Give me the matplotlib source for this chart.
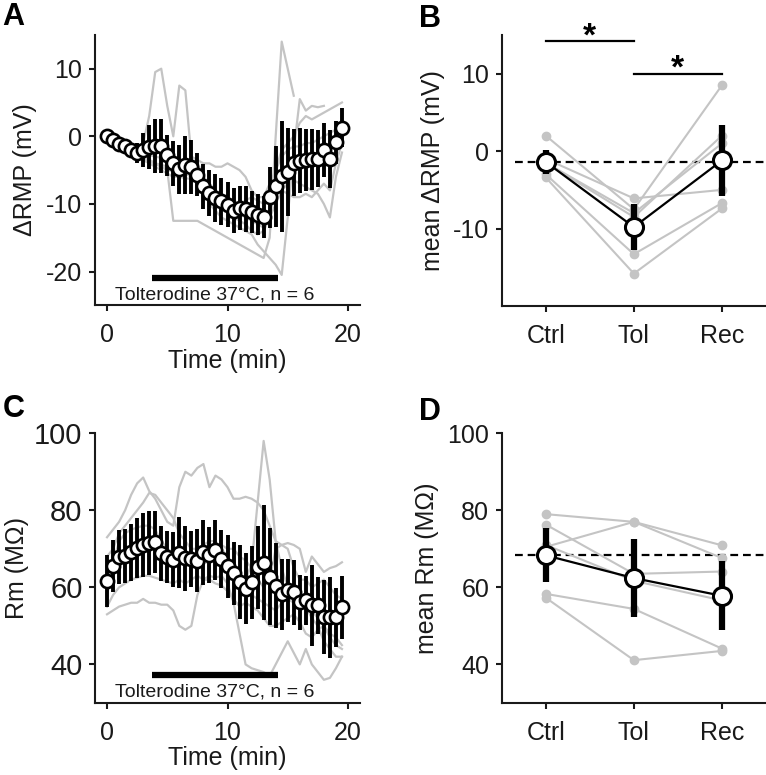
import numpy as np
import matplotlib
matplotlib.use('Agg')
from matplotlib import pyplot as plt

plt.rcParams['font.family'] = ['Liberation Sans', 'DejaVu Sans']
plt.rcParams['axes.unicode_minus'] = False

nan = np.nan

# time points (min)
time = [0, 0.5, 1, 1.5, 2, 2.5, 3, 3.5, 4, 4.5, 5, 5.5, 6, 6.5, 7, 7.5, 8, 8.5, 9, 9.5,
        10, 10.5, 11, 11.5, 12, 12.5, 13, 13.5, 14, 14.5, 15, 15.5, 16, 16.5, 17, 17.5, 18, 18.5, 19, 19.5]

# panel A: delta RMP (mV)
rmp_mean = [0, -0.6, -1.1, -1.5, -2.0, -2.5, -2.0, -1.6, -1.4, -1.4,
            -2.8, -4.0, -4.9, -4.2, -4.5, -5.7, -7.4, -8.4, -9.1, -9.6,
            -10.1, -11.0, -10.6, -10.8, -11.2, -11.6, -12.0, -9.0, -7.4, -5.9,
            -5.3, -3.9, -3.6, -3.5, -3.4, -3.3, -2.0, -3.4, -0.9, 1.3]
rmp_sd = [0.2, 0.4, 0.5, 0.7, 0.9, 1.5, 2.5, 3.2, 4.0, 4.0,
          3.0, 3.3, 3.6, 4.3, 4.0, 3.2, 3.3, 3.4, 3.5, 3.5,
          3.3, 3.3, 3.2, 3.4, 3.1, 3.0, 3.1, 4.5, 6.0, 8.2,
          6.5, 5.0, 4.8, 4.6, 4.5, 4.2, 4.0, 4.3, 3.2, 2.9]
rmp_cell1 = [0, -0.3, -0.8, -1.2, -1.5, -2, -1, 3, 9.5, 10,
             4.5, 0, 7.5, 6.8, -3, -3.5, -4, -4, -4.5, -4.5,
             -4, -4.5, -5, -6, -8, -9, -9, -7, -5, -2,
             -1, 0, 2, 3, 2.5, 3, 3.5, 4, 4.5, 5]
rmp_cell2 = [0, -0.5, -1, -1.5, -2, -2.5, -3, -3.5, -4, -4.5,
             -5, -12.5, -12.5, -12.5, -12.5, -12.5, -13, -13.5, -14, -14.5,
             -15, -15.5, -16, -16.5, -17, -17.5, -18, -15, 0, 14,
             10, 6, nan, nan, nan, nan, nan, nan, nan, nan]
rmp_cell3 = [0, -0.8, -1.5, -2, -2.5, -3, -3.5, -4, -4.5, -5,
             -5.5, -6, -6, -6.2, -6.3, -6.5, -8, -10, -11, -12,
             -12.5, -13, -13.5, -14, -14.5, -16, -17, -18, -19, -20.5,
             -12, -2, 5.5, 3.8, 4.5, 4.3, 4.5, nan, nan, nan]
rmp_cell4 = [0, -0.5, -1.2, -1.8, -2.3, -2.8, -3.3, -3.8, -4, -4.2,
             -4.5, -5, -5.5, -4, -3.5, -3.8, -6, -7.5, -9, -10,
             -11, -12, -12.5, -13, -14, -14.5, -14, -12, -10, -8,
             -7, -6.5, -7, -7.5, -8, -8.5, -10, -12, -6, -2.4]
rmp_cell5 = [0, -0.6, -1, -1.4, -1.8, -2.2, -2.5, -2.8, -3, -3.2,
             -3.3, -3.5, -3.6, -3.8, -4, -4.5, -6, -7, -8, -8.5,
             -9, -9.5, -10, -9.5, -9, -9.5, -10, -8, -5, -3,
             -2, -1.5, -1.5, -1, -1, -0.5, 0, 0.5, 1, 0.5]
rmp_cell6 = [0, -0.7, -1.3, -1.6, -2, -2.5, -3, -3.5, -4, -4.5,
             -5, -5.2, -5.3, -5.5, -6, -6.3, -6.5, -7.5, -8.5, -9.5,
             -10.5, -11, -11.5, -12, -12.5, -13, -13.5, -11, -9, -8,
             -8.5, -9, -9, -8.5, -9, -8, -7, -8, -4, -1]

# panel C: Rm (MOhm)
rm_mean = [61.6, 65.5, 67.9, 68.2, 69.1, 70.2, 71.0, 71.4, 71.7, 68.8,
           67.8, 67.2, 69.0, 67.5, 67.3, 66.9, 69.1, 68.4, 69.7, 67.3,
           65.5, 63.6, 61.4, 59.6, 61.3, 65.2, 66.4, 62.8, 60.4, 58.2,
           59.2, 58.7, 56.1, 56.6, 55.4, 55.3, 52.3, 52.2, 52.2, 54.8]
rm_sd = [6.7, 6.8, 7.0, 7.0, 7.4, 7.7, 8.4, 8.3, 8.0, 7.1,
         6.8, 7.1, 9.3, 8.5, 7.3, 8.2, 8.5, 7.2, 7.8, 7.5,
         8.2, 8.2, 9.7, 9.2, 9.5, 10.7, 15.0, 12.7, 11.0, 9.2,
         8.2, 8.4, 7.1, 6.4, 10.5, 7.5, 9.7, 10.5, 7.7, 8.2]
rm_cell1 = [73, 75, 77, 80, 84, 87, 88.5, 85, 83, 80,
            77, 76, 86, 90, 89, 91, 92, 86, 89, 88,
            86, 83, 83, 83.5, 83, 82, 80, 76, 72, 71,
            71.5, 71, 70, 64, 68, 66, 64, 65, 65.5, 66.5]
rm_cell2 = [68, 70, 74, 76, 78, 80, 82, 84.5, 84, 82,
            80, 78, 74, 72, 70, 70, 71, 72, 72, 70,
            68, 65, 62, 62, 66, 82, 98, 88, 72, 65,
            60, 58, 56, 55, 52, 50, 46, 44, 42, 42]
rm_cell3 = [53, 54, 55, 55.5, 56, 56, 57, 56, 56, 55.5,
            55.5, 54, 50, 49, 50, 58, 62, 63, 62.5, 63,
            61, 56, 48, 40, 39, 38.5, 38, 37, 40, 43,
            46, 43, 40, 44, 40, 38, 36, 36.5, 39, 42]
rm_cell4 = [55, 58, 60, 61, 62, 62.5, 63, 63, 62.5, 62,
            61.5, 61, 62, 61, 62, 63, 62, 62, 61, 60.5,
            59, 57, 55, 56, 55, 54, 52, 50, 50, 51,
            52, 53, 51, 48, 47, 49, 50, 47, 45, 44]
rm_cell5 = [58, 66, 72, 74, 75, 75.5, 76, 76, 75, 72,
            70, 69, 70, 69, 68, 67, 68, 69, 70, 71,
            70, 70, 68, 67, 65, 62, 60, 62, 70, 71,
            70, 65, 62, 62, 60, 61, 62, 60, 58, 57]
rm_cell6 = [62, 65, 67, 68, 69, 70, 71, 72, 71, 70,
            68, 67, 66, 67, 66, 65, 66, 67, 68, 68,
            66, 64, 62, 60, 58, 57, 56, 55, 54, 56,
            57, 56, 54, 55, 54, 52, 50, 48, 47, 45]

# panels B and D: per-condition summaries
conditions = ['Ctrl', 'Tol', 'Rec']
b_cells = [[2.0, -7.5, 8.5],
           [-1.0, -6.1, -5.0],
           [-1.5, -8.5, 2.0],
           [-3.0, -13.3, -6.7],
           [-3.4, -15.8, -7.4],
           [-1.5, -8.0, 1.0]]
b_mean = [-1.4, -9.8, -1.2]
b_sd = [1.6, 3.0, 4.6]
d_cells = [[79.0, 77.0, 70.9],
           [76.3, 63.5, 64.1],
           [70.5, 77.0, 67.6],
           [71.0, 61.7, 56.6],
           [58.3, 54.4, 44.1],
           [57.3, 41.1, 43.5]]
d_mean = [68.3, 62.4, 57.8]
d_sd = [7.0, 10.1, 9.0]

drug_on, drug_off = 3.75, 14.2
drug_label = 'Tolterodine 37°C, n = 6'

grey = '#c4c4c4'
txt = '#1a1a1a'

fig = plt.figure(figsize=(7.66, 7.75), dpi=100)
axA = fig.add_axes([0.124, 0.606, 0.346, 0.349])
axB = fig.add_axes([0.655, 0.605, 0.345, 0.350])
axC = fig.add_axes([0.124, 0.093, 0.346, 0.348])
axD = fig.add_axes([0.655, 0.093, 0.345, 0.348])


def style(ax):
    for s in ['top', 'right']:
        ax.spines[s].set_visible(False)
    for s in ['left', 'bottom']:
        ax.spines[s].set_linewidth(1.5)
        ax.spines[s].set_color(txt)
    ax.tick_params(labelsize=18, length=4, width=1.5, colors=txt)
    ax.tick_params(axis='x', pad=9)
    ax.tick_params(axis='y', pad=5)


def time_panel(ax, cells, mean, sd, bar_y, label_y):
    for c in cells:
        ax.plot(time, c, color=grey, lw=1.6, zorder=1)
    ax.errorbar(time, mean, yerr=sd, fmt='none', ecolor='black', elinewidth=2.8, capsize=0, zorder=2)
    ax.plot(time, mean, 'o', ms=9.5, mfc='white', mec='black', mew=1.9, zorder=3)
    ax.plot([drug_on, drug_off], [bar_y, bar_y], color='black', lw=4.5, solid_capstyle='butt', zorder=2)
    ax.text((drug_on + drug_off) / 2, label_y, drug_label, ha='center', va='center', fontsize=14, color=txt)
    ax.set_xlim(-1, 21)
    ax.set_xticks([0, 10, 20])
    ax.set_xlabel('Time (min)', fontsize=18, color=txt, labelpad=1)
    style(ax)


def summary_panel(ax, cells, mean, sd):
    x = [1, 2, 3]
    ax.axhline(mean[0], xmin=0.05, color='black', lw=1.6, dashes=(3.5, 2.2), zorder=0)
    for c in cells:
        ax.plot(x, c, color=grey, lw=1.5, marker='o', ms=6, zorder=1)
    ax.plot(x, mean, color='black', lw=1.6, zorder=2)
    ax.errorbar(x, mean, yerr=sd, fmt='none', ecolor='black', elinewidth=4.5, capsize=0, zorder=3)
    ax.plot(x, mean, 'o', ms=13, mfc='white', mec='black', mew=2.2, zorder=4)
    ax.set_xlim(0.5, 3.5)
    ax.set_xticks(x)
    ax.set_xticklabels(conditions)
    style(ax)


time_panel(axA, [rmp_cell1, rmp_cell2, rmp_cell3, rmp_cell4, rmp_cell5, rmp_cell6],
           rmp_mean, rmp_sd, -20.9, -23.4)
axA.set_ylim(-25, 15)
axA.set_yticks([-20, -10, 0, 10])
axA.set_ylabel('ΔRMP (mV)', fontsize=18, color=txt, labelpad=7)

time_panel(axC, [rm_cell1, rm_cell2, rm_cell3, rm_cell4, rm_cell5, rm_cell6],
           rm_mean, rm_sd, 37.2, 32.9)
axC.set_ylim(30, 100)
axC.set_yticks([40, 60, 80, 100])
axC.tick_params(axis='y', labelsize=21)
axC.set_ylabel('Rm (MΩ)', fontsize=18, color=txt, labelpad=4)

summary_panel(axB, b_cells, b_mean, b_sd)
axB.set_ylim(-20, 15)
axB.set_yticks([-10, 0, 10])
axB.set_ylabel('mean ΔRMP (mV)', fontsize=18, color=txt, labelpad=6)
# significance bars
axB.plot([1, 2], [14.2, 14.2], color='black', lw=1.6, clip_on=False)
axB.text(1.5, 12.75, '*', ha='center', va='bottom', fontsize=24, fontweight='bold', clip_on=False)
axB.plot([2, 3], [10.0, 10.0], color='black', lw=1.6, clip_on=False)
axB.text(2.5, 8.55, '*', ha='center', va='bottom', fontsize=24, fontweight='bold', clip_on=False)

summary_panel(axD, d_cells, d_mean, d_sd)
axD.set_ylim(30, 100)
axD.set_yticks([40, 60, 80, 100])
axD.set_ylabel('mean Rm (MΩ)', fontsize=18, color=txt, labelpad=6)

for letter, x, y in [('A', 0.003, 0.998), ('B', 0.547, 0.995), ('C', 0.003, 0.492), ('D', 0.547, 0.488)]:
    fig.text(x, y, letter, fontsize=22, fontweight='bold', ha='left', va='top')

fig.savefig('out.png', dpi=100)
